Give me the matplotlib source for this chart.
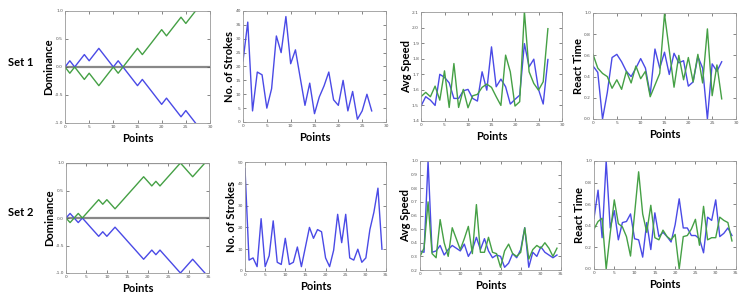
import matplotlib
matplotlib.use("Agg")
import matplotlib.pyplot as plt

# ---------------- data ----------------
# Set 1 (28 points), Set 2 (35 points)
dom1_blue = [0, 0.111, 0, 0.111, 0.222, 0.111, 0.222, 0.333, 0.222, 0.111, 0, 0.111, 0,
             -0.111, -0.222, -0.333, -0.222, -0.333, -0.444, -0.556, -0.667, -0.556, -0.667,
             -0.778, -0.889, -0.778, -0.889, -1.0]
dom1_green = [0, -0.111, 0, -0.111, -0.222, -0.111, -0.222, -0.333, -0.222, -0.111, 0, -0.111, 0,
              0.111, 0.222, 0.333, 0.222, 0.333, 0.444, 0.556, 0.667, 0.556, 0.667,
              0.778, 0.889, 0.778, 0.889, 1.0]
strokes1 = [22, 36, 4, 18, 17, 5, 12, 31, 25, 38, 21, 26, 16, 6, 14, 3, 9, 13, 18, 8, 6, 15,
            4, 11, 1, 4, 10, 4]
speed1_blue = [1.496, 1.556, 1.534, 1.500, 1.700, 1.680, 1.645, 1.545, 1.545, 1.594, 1.603,
               1.545, 1.528, 1.716, 1.598, 1.876, 1.620, 1.669, 1.620, 1.509, 1.539, 1.566,
               1.897, 1.748, 1.797, 1.603, 1.509, 1.795]
speed1_green = [1.556, 1.584, 1.556, 1.624, 1.534, 1.722, 1.487, 1.769, 1.487, 1.603, 1.485,
                1.562, 1.571, 1.616, 1.637, 1.616, 1.556, 1.500, 1.823, 1.716, 1.496, 1.524,
                2.104, 1.716, 1.641, 1.598, 1.652, 1.993]
react1_blue = [0.50, 0.44, 0.00, 0.25, 0.58, 0.61, 0.54, 0.45, 0.40, 0.48, 0.57, 0.48, 0.23,
               0.66, 0.48, 0.63, 0.42, 0.62, 0.53, 0.55, 0.31, 0.35, 0.59, 0.48, 0.00, 0.52,
               0.45, 0.54]
react1_green = [0.61, 0.48, 0.43, 0.40, 0.29, 0.37, 0.28, 0.45, 0.34, 0.50, 0.38, 0.45, 0.21,
                0.32, 0.43, 0.99, 0.65, 0.30, 0.60, 0.37, 0.58, 0.35, 0.61, 0.34, 0.85, 0.22,
                0.51, 0.19]

dom2_blue = [0, 0.083, 0, -0.083, 0, -0.083, -0.167, -0.25, -0.333, -0.25, -0.333, -0.25, -0.167,
             -0.25, -0.333, -0.417, -0.5, -0.583, -0.667, -0.75, -0.667, -0.583, -0.667, -0.583,
             -0.667, -0.75, -0.833, -0.917, -1.0, -0.917, -0.833, -0.75, -0.833, -0.917, -1.0]
dom2_green = [0, -0.083, 0, 0.083, 0, 0.083, 0.167, 0.25, 0.333, 0.25, 0.333, 0.25, 0.167,
              0.25, 0.333, 0.417, 0.5, 0.583, 0.667, 0.75, 0.667, 0.583, 0.667, 0.583,
              0.667, 0.75, 0.833, 0.917, 1.0, 0.917, 0.833, 0.75, 0.833, 0.917, 1.0]
strokes2 = [47, 5, 6, 2, 24, 2, 7, 23, 4, 3, 15, 3, 4, 11, 2, 11, 20, 15, 19, 18, 6, 2, 9.5,
            26, 13, 26, 6, 5, 10, 4, 6, 19, 27, 38, 10]
speed2_blue = [0.34, 0.33, 1.00, 0.33, 0.34, 0.38, 0.31, 0.35, 0.38, 0.36, 0.34, 0.39, 0.30,
               0.35, 0.44, 0.35, 0.43, 0.34, 0.29, 0.31, 0.30, 0.22, 0.25, 0.32, 0.29, 0.35,
               0.51, 0.22, 0.33, 0.30, 0.37, 0.33, 0.31, 0.29, 0.31]
speed2_green = [0.30, 0.36, 0.70, 0.32, 0.29, 0.57, 0.40, 0.30, 0.51, 0.43, 0.35, 0.43, 0.52,
                0.32, 0.68, 0.33, 0.33, 0.44, 0.33, 0.32, 0.22, 0.34, 0.39, 0.32, 0.30, 0.33,
                0.51, 0.28, 0.35, 0.38, 0.36, 0.40, 0.36, 0.30, 0.36]
react2_blue = [0.47, 0.73, 0.29, 1.00, 0.38, 0.54, 0.27, 0.43, 0.44, 0.51, 0.28, 0.27, 0.11,
               0.43, 0.18, 0.52, 0.30, 0.34, 0.30, 0.25, 0.41, 0.65, 0.38, 0.38, 0.31, 0.31,
               0.28, 0.15, 0.48, 0.45, 0.64, 0.30, 0.33, 0.38, 0.31]
react2_green = [0.37, 0.44, 0.47, 0.00, 0.33, 0.64, 0.42, 0.39, 0.30, 0.12, 0.51, 0.90, 0.51,
                0.34, 0.59, 0.29, 0.27, 0.36, 0.30, 0.27, 0.32, 0.00, 0.30, 0.31, 0.37, 0.46,
                0.22, 0.58, 0.27, 0.29, 0.29, 0.48, 0.45, 0.43, 0.26]

set_labels = ["Set 1", "Set 2"]
ylabels = ["Dominance", "No. of Strokes", "Avg Speed", "React Time"]
xlabel = "Points"

# ---------------- style ----------------
W, H = 747, 299
BLUE = "#4a4ae6"
GREEN = "#45a045"
FONT = ["Lato", "DejaVu Sans"]

fig = plt.figure(figsize=(W / 100, H / 100), dpi=100)
fig.patch.set_facecolor("white")


def px_axes(l, r, t, b):
    return fig.add_axes([l / W, 1 - b / H, (r - l) / W, (b - t) / H])


def style(ax, xmax, ylim, yticks, ytl, ylabel):
    ax.set_xlim(0, xmax)
    ax.set_ylim(*ylim)
    ax.set_yticks(yticks)
    ax.set_yticklabels(ytl)
    ax.set_xticks(list(range(0, xmax + 1, 5)))
    ax.tick_params(direction="in", length=2, width=0.5, labelsize=3.2,
                   colors="#555555", top=True, right=True, pad=1.5)
    for s in ax.spines.values():
        s.set_color("#999999")
        s.set_linewidth(0.6)
    ax.set_xlabel(xlabel, fontsize=8, fontweight="bold", family=FONT, labelpad=3)
    ax.set_ylabel(ylabel, fontsize=8, fontweight="bold", family=FONT, labelpad=0)


def fmt(vals, d=1):
    return [f"{v:.{d}f}" for v in vals]


lw = 1.0
# Row 1
ax = px_axes(65, 210, 11, 123)
x = list(range(len(dom1_blue)))
ax.axhline(0, color="#888888", lw=1.6, zorder=1)
ax.plot(x, dom1_blue, color=BLUE, lw=lw)
ax.plot(x, dom1_green, color=GREEN, lw=lw)
style(ax, 30, (-1, 1), [-1, -0.5, 0, 0.5, 1], fmt([-1, -0.5, 0, 0.5, 1]), ylabels[0])

ax = px_axes(243, 386, 11, 122)
ax.plot(range(len(strokes1)), strokes1, color=BLUE, lw=lw)
yt = list(range(0, 41, 5))
style(ax, 30, (0, 40), yt, [str(v) for v in yt], ylabels[1])

ax = px_axes(421, 562, 12, 121)
ax.plot(range(len(speed1_blue)), speed1_blue, color=BLUE, lw=lw)
ax.plot(range(len(speed1_green)), speed1_green, color=GREEN, lw=lw)
yt = [1.4 + 0.1 * i for i in range(8)]
style(ax, 30, (1.4, 2.1), yt, fmt(yt), ylabels[2])

ax = px_axes(593, 736, 13, 119)
ax.plot(range(len(react1_blue)), react1_blue, color=BLUE, lw=lw)
ax.plot(range(len(react1_green)), react1_green, color=GREEN, lw=lw)
yt = [0, 0.2, 0.4, 0.6, 0.8, 1.0]
style(ax, 30, (0, 1), yt, fmt(yt), ylabels[3])

# Row 2
ax = px_axes(66, 209, 163, 273)
x = list(range(len(dom2_blue)))
ax.axhline(0, color="#888888", lw=1.6, zorder=1)
ax.axhline(1, color="#888888", lw=1.6, zorder=1)
ax.plot(x, dom2_blue, color=BLUE, lw=lw)
ax.plot(x, dom2_green, color=GREEN, lw=lw)
style(ax, 35, (-1, 1), [-1, -0.5, 0, 0.5, 1], fmt([-1, -0.5, 0, 0.5, 1]), ylabels[0])

ax = px_axes(245, 386, 162, 271)
ax.plot(range(len(strokes2)), strokes2, color=BLUE, lw=lw)
yt = list(range(0, 51, 10))
style(ax, 35, (0, 50), yt, [str(v) for v in yt], ylabels[1])

ax = px_axes(420, 561, 161, 270)
ax.plot(range(len(speed2_blue)), speed2_blue, color=BLUE, lw=lw)
ax.plot(range(len(speed2_green)), speed2_green, color=GREEN, lw=lw)
yt = [0.2 + 0.1 * i for i in range(9)]
style(ax, 35, (0.2, 1.0), yt, fmt(yt), ylabels[2])

ax = px_axes(594, 736, 161, 269)
ax.plot(range(len(react2_blue)), react2_blue, color=BLUE, lw=lw)
ax.plot(range(len(react2_green)), react2_green, color=GREEN, lw=lw)
yt = [0, 0.2, 0.4, 0.6, 0.8, 1.0]
style(ax, 35, (0, 1), yt, fmt(yt), ylabels[3])

fig.text(21 / W, 1 - 62 / H, set_labels[0], ha="center", va="center",
         fontsize=8, fontweight="bold", family=FONT)
fig.text(21 / W, 1 - 213 / H, set_labels[1], ha="center", va="center",
         fontsize=8, fontweight="bold", family=FONT)

fig.savefig("out.png", dpi=100, facecolor="white")
